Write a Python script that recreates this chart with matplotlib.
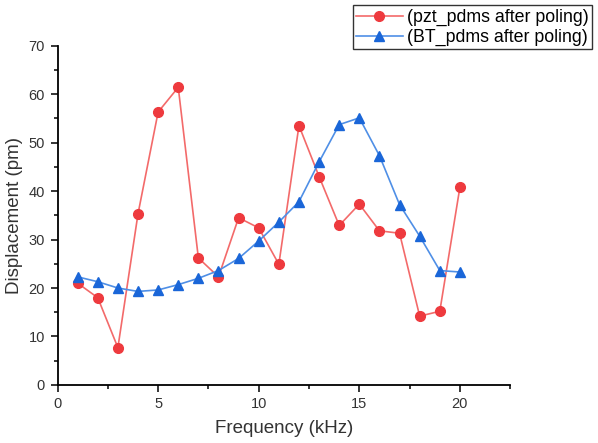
import matplotlib
matplotlib.use('Agg')
import matplotlib.pyplot as plt
from matplotlib.ticker import MultipleLocator

plt.rcParams['font.family'] = ['Liberation Sans', 'DejaVu Sans']

freq = list(range(1, 21))
pzt_pdms = [21.0, 18.0, 7.7, 35.3, 56.3, 61.4, 26.2, 22.3, 34.5, 32.4,
            24.9, 53.5, 43.0, 32.9, 37.3, 31.8, 31.3, 14.2, 15.2, 40.8]
bt_pdms = [22.3, 21.3, 20.0, 19.3, 19.6, 20.7, 22.0, 23.6, 26.1, 29.7,
           33.6, 37.8, 46.0, 53.7, 55.1, 47.3, 37.2, 30.7, 23.6, 23.3]

fig = plt.figure(figsize=(5.98, 4.43), dpi=100)
ax = fig.add_axes([0.0962, 0.131, 0.757, 0.766])

ax.plot(freq, pzt_pdms, color='#f36a6a', lw=1.2, marker='o', ms=7,
        mfc='#ee3a3e', mec='#ee3a3e', label='(pzt_pdms after poling)')
ax.plot(freq, bt_pdms, color='#4f8fe6', lw=1.2, marker='^', ms=7.5,
        mfc='#1a66d8', mec='#1a66d8', label='(BT_pdms after poling)')

ax.set_xlim(0, 22.5)
ax.set_ylim(0, 70)
ax.xaxis.set_major_locator(MultipleLocator(5))
ax.xaxis.set_minor_locator(MultipleLocator(2.5))
ax.yaxis.set_major_locator(MultipleLocator(10))
ax.yaxis.set_minor_locator(MultipleLocator(5))

for s in ['top', 'right']:
    ax.spines[s].set_visible(False)
for s in ['left', 'bottom']:
    ax.spines[s].set_linewidth(1.3)

ax.tick_params(which='major', direction='out', length=5, width=1.1,
               labelsize=10.5, colors='black', labelcolor='#333333', pad=4)
ax.tick_params(which='minor', direction='out', length=3, width=1.1)

ax.set_xlabel('Frequency (kHz)', fontsize=13.5, color='#333333', labelpad=6)
ax.set_ylabel('Displacement (pm)', fontsize=13.5, color='#333333', labelpad=4)

leg = ax.legend(loc='upper left', bbox_to_anchor=(0.59, 0.988),
                bbox_transform=fig.transFigure, fontsize=12.8,
                frameon=True, fancybox=False, framealpha=1,
                edgecolor='#333333', handlelength=2.6, handletextpad=0.25,
                borderpad=0.2, labelspacing=0.15, borderaxespad=0)
leg.get_frame().set_linewidth(1.0)

fig.savefig('out.png', dpi=100)
